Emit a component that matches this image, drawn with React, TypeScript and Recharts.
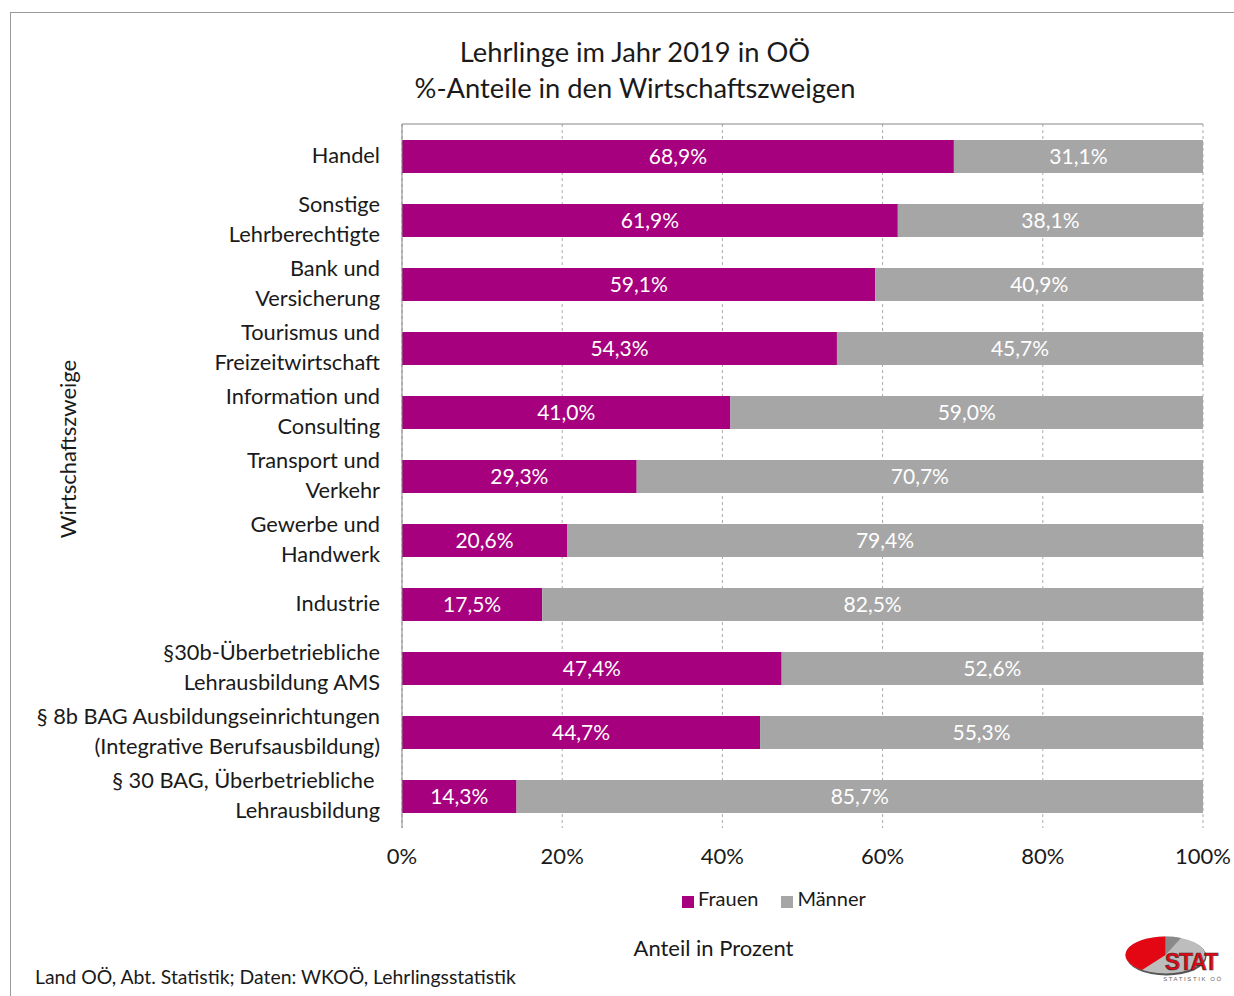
import React from 'react';
import { BarChart, Bar, XAxis, YAxis, CartesianGrid, LabelList, Legend, Label } from 'recharts';

const categories = [
  'Handel',
  'Sonstige\nLehrberechtigte',
  'Bank und\nVersicherung',
  'Tourismus und\nFreizeitwirtschaft',
  'Information und\nConsulting',
  'Transport und\nVerkehr',
  'Gewerbe und\nHandwerk',
  'Industrie',
  '§30b-Überbetriebliche\nLehrausbildung AMS',
  '§ 8b BAG Ausbildungseinrichtungen\n(Integrative Berufsausbildung)',
  '§ 30 BAG, Überbetriebliche \nLehrausbildung',
];
const frauen = [68.9, 61.9, 59.1, 54.3, 41.0, 29.3, 20.6, 17.5, 47.4, 44.7, 14.3];
const maenner = [31.1, 38.1, 40.9, 45.7, 59.0, 70.7, 79.4, 82.5, 52.6, 55.3, 85.7];
const xTicks = [0, 20, 40, 60, 80, 100];
const boundaryTicks = [0, 1, 2, 3, 4, 5, 6, 7, 8, 9, 10, 11];

const data = categories.map((name, i) => ({ name, frauen: frauen[i], maenner: maenner[i] }));

const FONT = 'Lato, "Open Sans", sans-serif';
const WEIGHT = 400;
const TEXT = '#1a1a1a';
const MAGENTA = '#A6007E';
const GRAY = '#A6A6A6';
const AXIS = '#868686';

const fmt = (v: any) => `${Number(v).toFixed(1).replace('.', ',')}%`;

const CatTick = (props: any) => {
  const { x, y, payload } = props;
  const lines = String(payload.value).split('\n');
  const lh = 30;
  const start = -((lines.length - 1) * lh) / 2 + 7;
  return (
    <text x={x} y={y} textAnchor="end" fontSize={21.8} fontWeight={WEIGHT} fill={TEXT} fontFamily={FONT}>
      {lines.map((l, i) => (
        <tspan key={i} x={x} dy={i === 0 ? start : lh} style={{ whiteSpace: 'pre' }}>
          {l}
        </tspan>
      ))}
    </text>
  );
};

const YTitle = (props: any) => {
  const vb = props.viewBox || {};
  const cx = vb.x + 57;
  const cy = vb.y + vb.height / 2 - 27;
  return (
    <text
      transform={`translate(${cx}, ${cy}) rotate(-90)`}
      textAnchor="middle"
      dominantBaseline="central"
      fontSize={22}
      fontWeight={WEIGHT}
      fill={TEXT}
      fontFamily={FONT}
    >
      Wirtschaftszweige
    </text>
  );
};

const XTitle = (props: any) => {
  const vb = props.viewBox || {};
  const cx = vb.x + vb.width / 2 - 89;
  const cy = vb.y + vb.height - 5;
  return (
    <text x={cx} y={cy} textAnchor="middle" fontSize={22} fontWeight={WEIGHT} fill={TEXT} fontFamily={FONT}>
      Anteil in Prozent
    </text>
  );
};

const Logo = () => (
  <svg width={110} height={60} viewBox="0 0 110 60" style={{ position: 'absolute', left: 1120, top: 930 }}>
    <ellipse cx={46.5} cy={26.5} rx={40} ry={19} fill="#555" />
    <ellipse cx={45.5} cy={25} rx={40} ry={18.5} fill="#BDBDBD" />
    <path d="M45.5 25 L45.5 6.5 A40 18.5 0 0 1 61 7.9 Z" fill="#8a8a8a" />
    <path d="M45.5 25 L45.5 6.5 A40 18.5 0 0 0 22 40 Z" fill="#E30613" />
    <text x={71} y={40} textAnchor="middle" fontSize={23} fontWeight={900} fill="#E30613" stroke="#333" strokeWidth={0.6} fontFamily="Liberation Sans, Arial, sans-serif" letterSpacing={-1}>
      STAT
    </text>
    <text x={73} y={51} textAnchor="middle" fontSize={6} fill="#666" fontFamily="Liberation Sans, Arial, sans-serif" letterSpacing={1.6}>
      STATISTIK OÖ
    </text>
  </svg>
);

export default function App() {
  return (
    <div style={{ position: 'absolute', left: 0, top: 0, width: 1234, height: 996, background: '#fff', fontFamily: FONT, fontWeight: WEIGHT, overflow: 'hidden' }}>
      <div style={{ position: 'absolute', left: 10, top: 12, width: 1234, height: 996, borderLeft: '1px solid #9a9a9a', borderTop: '1px solid #9a9a9a' }} />
      <div style={{ position: 'absolute', left: 335, top: 34, width: 600, textAlign: 'center', fontSize: 27.3, lineHeight: '36px', color: TEXT }}>
        <div>Lehrlinge im Jahr 2019 in OÖ</div>
        <div>%-Anteile in den Wirtschaftszweigen</div>
      </div>
      <div style={{ position: 'absolute', left: 35, top: 965, fontSize: 19.4, lineHeight: '24px', color: TEXT }}>
        Land OÖ, Abt. Statistik; Daten: WKOÖ, Lehrlingsstatistik
      </div>
      <div style={{ position: 'absolute', left: 0, top: 0 }}>
        <BarChart
          width={1234}
          height={996}
          data={data}
          layout="vertical"
          margin={{ top: 114, right: 31, bottom: 11, left: 10 }}
        >
          <CartesianGrid xAxisId="bottom" yAxisId="z_cat" horizontal={false} vertical stroke="#ABABAB" strokeDasharray="3 3" />
          <XAxis
            xAxisId="top"
            orientation="top"
            type="number"
            domain={[0, 100]}
            ticks={xTicks}
            interval={0}
            height={10}
            tick={false}
            tickSize={8}
            axisLine={{ stroke: AXIS }}
            tickLine={{ stroke: AXIS }}
            allowDataOverflow
          />
          <XAxis
            xAxisId="bottom"
            orientation="bottom"
            type="number"
            domain={[0, 100]}
            ticks={xTicks}
            interval={0}
            height={133}
            axisLine={false}
            tickLine={false}
            tickMargin={14}
            tickFormatter={(v: any) => `${v}%`}
            tick={{ fontSize: 22, fill: TEXT, fontFamily: FONT, fontWeight: WEIGHT }}
          >
            <Label content={<XTitle />} />
          </XAxis>
          <YAxis
            yAxisId="z_cat"
            type="category"
            dataKey="name"
            orientation="left"
            width={384}
            interval={0}
            axisLine={false}
            tickLine={false}
            tickMargin={8}
            tick={<CatTick />}
          >
            <Label content={<YTitle />} />
          </YAxis>
          <YAxis
            yAxisId="a_ticks"
            type="number"
            orientation="left"
            domain={[0, 11]}
            ticks={boundaryTicks}
            interval={0}
            width={8}
            tick={false}
            tickSize={8}
            axisLine={{ stroke: AXIS }}
            tickLine={{ stroke: AXIS }}
            allowDataOverflow
          />
          <Legend
            verticalAlign="bottom"
            align="left"
            layout="horizontal"
            iconType="square"
            iconSize={12}
            wrapperStyle={{ top: 886, left: 682, width: 320, fontFamily: FONT }}
            formatter={(value: any) => (
              <span style={{ color: TEXT, fontSize: 20, fontWeight: WEIGHT, marginRight: 13 }}>{value}</span>
            )}
          />
          <Bar xAxisId="bottom" yAxisId="z_cat" dataKey="frauen" name="Frauen" stackId="a" fill={MAGENTA} barSize={33} isAnimationActive={false}>
            <LabelList dataKey="frauen" position="center" formatter={fmt} fill="#ffffff" fontSize={21} fontWeight={WEIGHT} fontFamily={FONT} />
          </Bar>
          <Bar xAxisId="bottom" yAxisId="z_cat" dataKey="maenner" name="Männer" stackId="a" fill={GRAY} barSize={33} isAnimationActive={false}>
            <LabelList dataKey="maenner" position="center" formatter={fmt} fill="#ffffff" fontSize={21} fontWeight={WEIGHT} fontFamily={FONT} />
          </Bar>
        </BarChart>
      </div>
      <Logo />
    </div>
  );
}
